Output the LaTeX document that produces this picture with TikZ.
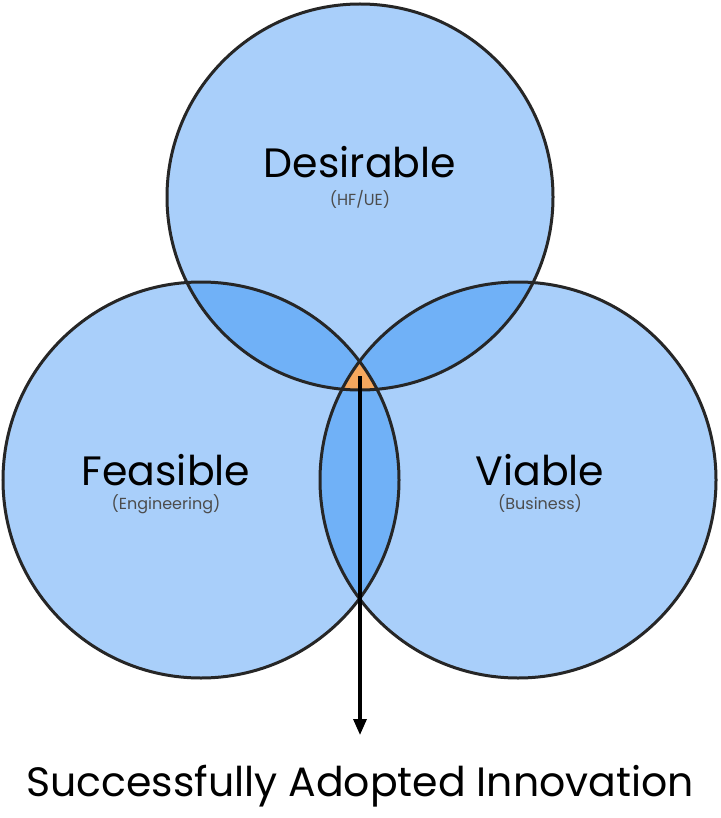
\documentclass[tikz,border=0pt]{standalone}
\usepackage{fontspec}
\setmainfont{Poppins}
\usetikzlibrary{arrows.meta}
\definecolor{lb}{HTML}{A9CFFA}
\definecolor{mb}{HTML}{70B1F7}
\definecolor{org}{HTML}{F6A85E}
\begin{document}
\begin{tikzpicture}[x=1pt,y=-1pt,
  ring/.style={draw=black!85,line width=3pt},
  big/.style={font=\fontsize{41}{44}\selectfont},
  small/.style={font=\fontsize{16}{18}\selectfont,text=black!70}]
\useasboundingbox (0,0) rectangle (720,818);
\def\T{(360,197) circle (193)}
\def\L{(201,480) circle (198)}
\def\R{(518,480) circle (198)}
\fill[lb] \T; \fill[lb] \L; \fill[lb] \R;
\begin{scope}\clip \T; \fill[mb] \L; \fill[mb] \R;\end{scope}
\begin{scope}\clip \L; \fill[mb] \R;\end{scope}
\begin{scope}\clip \T; \clip \L; \fill[org] \R;\end{scope}
\draw[ring] \T; \draw[ring] \L; \draw[ring] \R;
\node[big] (d) at (360,162) {Desirable};
\node[small] (ds) at (360,199) {(HF/UE)};
\node[big] (f) at (166,470) {Feasible};
\node[small] (fs) at (166,504) {(Engineering)};
\node[big] (v) at (540,470) {Viable};
\node[small] (vs) at (540,504) {(Business)};
\coordinate (s) at (360,376);
\node[font=\fontsize{41}{44}\selectfont,anchor=north] (out) at (360,762) {Successfully Adopted Innovation};
\coordinate (e) at (360,735);
\draw[line width=3.2pt,-{Triangle[length=16pt,width=13pt]}] (s) -- (e);
\end{tikzpicture}
\end{document}
